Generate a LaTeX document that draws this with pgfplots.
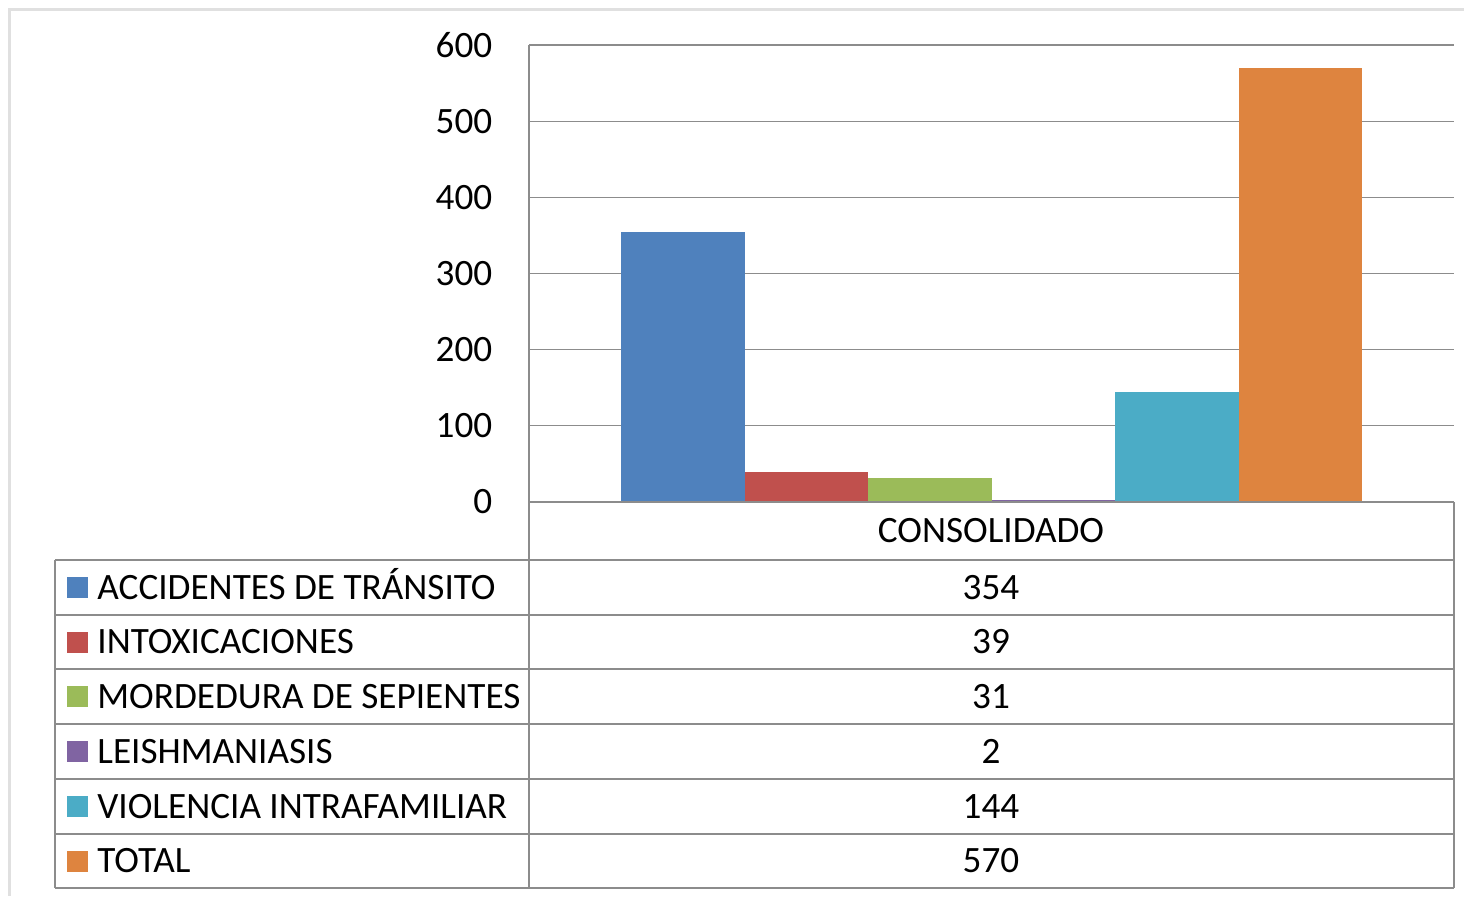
\documentclass[border=0pt]{standalone}
\usepackage{fontspec}
\setmainfont{Carlito}
\usepackage{pgfplots}
\pgfplotsset{compat=1.18}
\definecolor{cA}{HTML}{4F81BD}
\definecolor{cB}{HTML}{C0504D}
\definecolor{cC}{HTML}{9BBB59}
\definecolor{cD}{HTML}{8064A2}
\definecolor{cE}{HTML}{4BACC6}
\definecolor{cF}{HTML}{DE843F}
\definecolor{tline}{HTML}{8C8C8C}
\begin{document}
\fontsize{18.6}{22}\selectfont
\begin{tikzpicture}
\begin{scope}[x=0.5pt,y=-0.5pt]
\path[use as bounding box] (0,0) rectangle (1464,896);
\draw[black!12, line width=1.2pt] (9.5,896) -- (9.5,9.5) -- (1464,9.5);
\end{scope}
\begin{axis}[
  at={(264.5pt,-251pt)}, anchor=south west,
  scale only axis, width=462.5pt, height=228.5pt,
  xmin=-1, xmax=1, ymin=0, ymax=600,
  ybar=0pt, bar width=61.75pt,
  xtick=\empty, ytick={0,100,...,600},
  ymajorgrids, grid style={draw=black!45, line width=0.6pt},
  axis lines*=left,
  axis line style={draw=tline, line width=1pt},
  major tick length=0pt,
  /pgf/number format/assume math mode=true,
  yticklabel style={font=\fontsize{18.6}{22}\selectfont, xshift=-12pt},
  clip=false,
]
\addplot[fill=cA, draw=none] coordinates {(0,354)};
\addplot[fill=cB, draw=none] coordinates {(0,39)};
\addplot[fill=cC, draw=none] coordinates {(0,31)};
\addplot[fill=cD, draw=none] coordinates {(0,2)};
\addplot[fill=cE, draw=none] coordinates {(0,144)};
\addplot[fill=cF, draw=none] coordinates {(0,570)};
\end{axis}
\begin{scope}[x=0.5pt,y=-0.5pt]
\draw[tline, line width=1.3pt] (529,502) -- (1454,502);
\foreach \yy in {560,615,669,724,779,834,888} {
  \draw[tline, line width=1pt] (55,\yy) -- (1454,\yy);
}
\draw[tline, line width=1pt] (55,560) -- (55,888);
\draw[tline, line width=1pt] (529,502) -- (529,888);
\draw[tline, line width=1pt] (1454,502) -- (1454,888);
\node[anchor=base, inner sep=0pt] at (991,542.5) {CONSOLIDADO};
\foreach \yy/\col/\lab/\val in {587.5/cA/ACCIDENTES DE TRÁNSITO/354, 642/cB/INTOXICACIONES/39, 696.5/cC/MORDEDURA DE SEPIENTES/31, 751.5/cD/LEISHMANIASIS/2, 806.5/cE/VIOLENCIA INTRAFAMILIAR/144, 861/cF/TOTAL/570} {
  \fill[\col] (67,\yy-10.5) rectangle (88,\yy+10.5);
  \node[anchor=base west, inner sep=0pt] at (97,\yy+11.5) {\lab};
  \node[anchor=base, inner sep=0pt] at (991,\yy+11.5) {\val};
}
\end{scope}
\end{tikzpicture}
\end{document}
